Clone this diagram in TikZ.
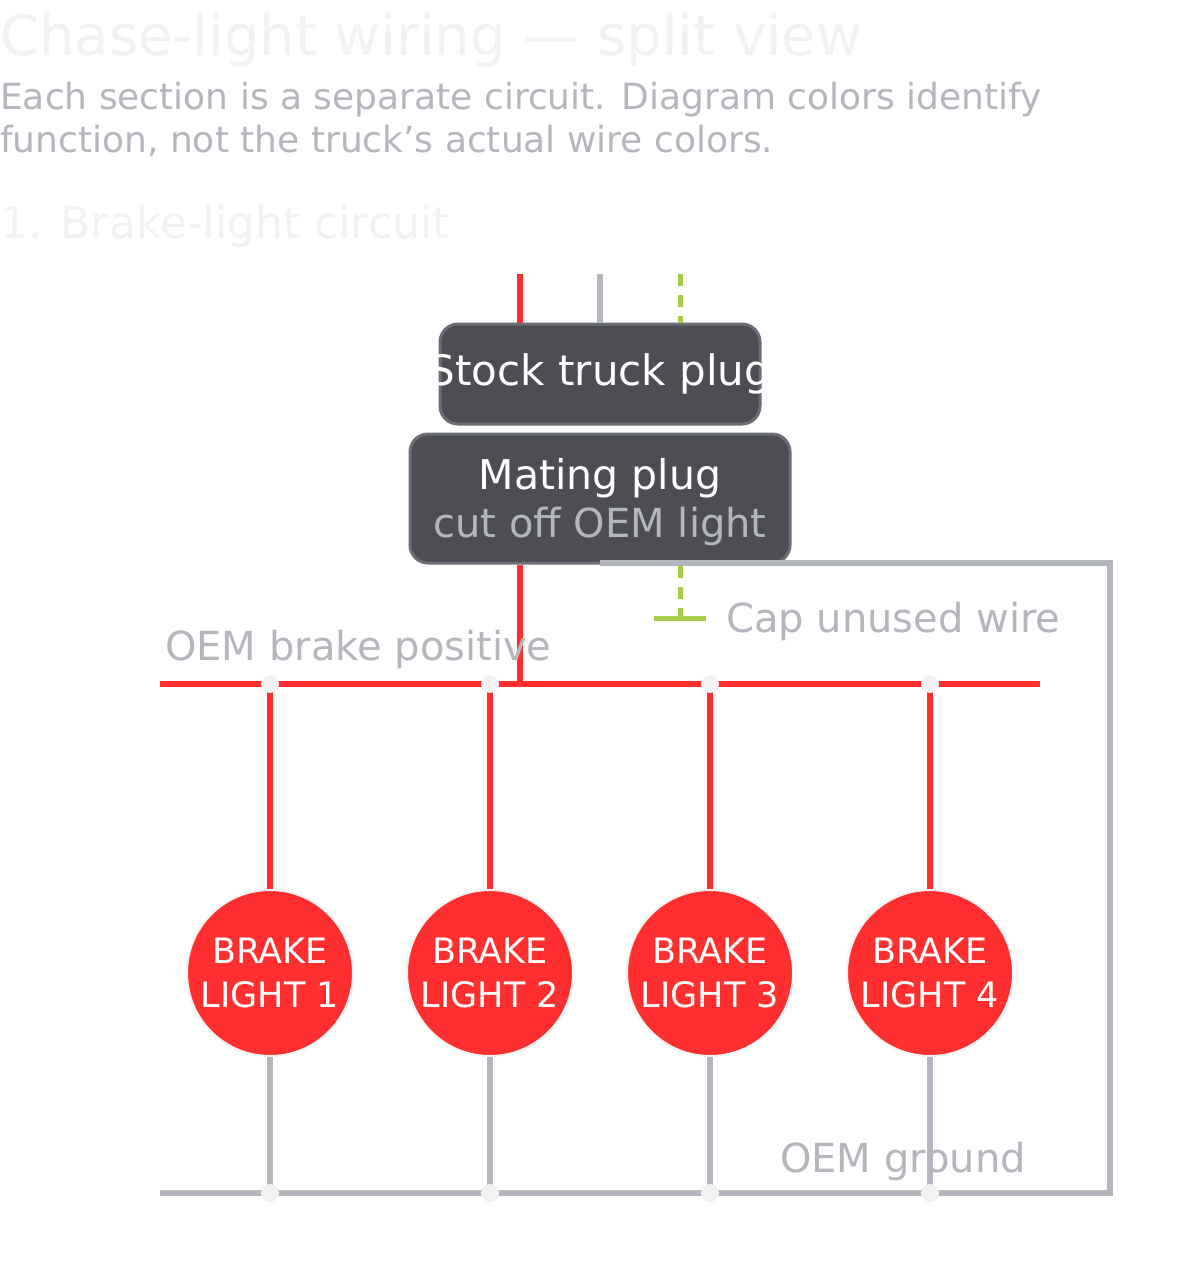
\documentclass[tikz,border=0pt]{standalone}
\usepackage{fontspec}
\setmainfont{DejaVu Sans}
\begin{document}
\begin{tikzpicture}[x=1pt,y=-1pt,
  red/.style={draw=wred,line width=6pt},
  gnd/.style={draw=wgray,line width=6pt},
  grn/.style={draw=wgreen,line width=5pt},
  plug/.style={draw=pstroke,line width=3pt,fill=pfill,rounded corners=18pt},
  lamp/.style={circle,fill=wred,draw=faint,line width=2pt,minimum size=166pt,inner sep=0pt,text=white,font=\fontsize{35}{44}\selectfont,align=center},
  dot/.style={circle,fill=faint,inner sep=0pt,minimum size=18pt},
  lbl/.style={text=wgray,inner sep=0pt,font=\fontsize{40}{40}\selectfont}]
\definecolor{wred}{HTML}{FF2F2F}
\definecolor{wgray}{HTML}{B4B6BD}
\definecolor{wgreen}{HTML}{A8CC48}
\definecolor{faint}{HTML}{F2F2F3}
\definecolor{pfill}{HTML}{4D4E53}
\definecolor{pstroke}{HTML}{6B6D75}
\useasboundingbox[fill=white] (0,0) rectangle (1200,1284);
\node[anchor=base west,inner sep=0pt,text=faint,font=\fontsize{56}{56}\selectfont] (title) at (0,56) {Chase-light wiring — split view};
\node[anchor=base west,inner sep=0pt,text=wgray,font=\fontsize{36}{43}\selectfont,align=left] (sub) at (0,153) {Each section is a separate circuit. Diagram colors identify\\function, not the truck’s actual wire colors.};
\node[anchor=base west,inner sep=0pt,text=faint,font=\fontsize{44}{44}\selectfont] (sec) at (0,238) {1. Brake-light circuit};
% plugs
\draw[plug] (440,324) rectangle (760,424);
\node[text=white,font=\fontsize{42}{42}\selectfont] (stock) at (600,374) {Stock truck plug};
\draw[plug] (410,434) rectangle (790,563);
\node[text=white,font=\fontsize{41}{41}\selectfont,anchor=base] (mate) at (600,489) {Mating plug};
\node[text=wgray,font=\fontsize{40}{40}\selectfont,anchor=base] (cut) at (600,537) {cut off OEM light};
\coordinate (r0) at (520,274); \coordinate (r1) at (520,323);
\coordinate (g0) at (600,274); \coordinate (g1) at (600,323);
\coordinate (n0) at (680,274); \coordinate (n1) at (680,323);
\draw[red] (r0)--(r1);
\draw[gnd] (g0)--(g1);
\draw[grn,dash pattern=on 12pt off 9pt] (n0)--(n1);
% below mating plug
\coordinate (rb) at (520,565); \coordinate (rj) at (520,684);
\draw[red] (rb)--(rj);
\coordinate (nb) at (680,566); \coordinate (nc) at (680,618);
\draw[grn,dash pattern=on 12pt off 9pt] (nb)--(nc);
\coordinate (capl) at (654,618); \coordinate (capr) at (706,618);
\draw[grn] (capl)--(capr);
\node[lbl,anchor=base west] (caplbl) at (726,632) {Cap unused wire};
% ground loop
\coordinate (gs) at (600,563); \coordinate (gl) at (160,1193);
\draw[gnd,line join=miter] (gs)--(1110,563)--(1110,1193)--(gl);
% bus
\coordinate (bl) at (160,684); \coordinate (br) at (1040,684);
\draw[red] (bl)--(br);
\node[lbl,anchor=base west] (bplbl) at (165,660) {OEM brake positive};
\node[lbl,anchor=base west] (gndlbl) at (780,1172) {OEM ground};
\foreach \i/\x in {1/270,2/490,3/710,4/930}{
  \node[lamp] (L\i) at (\x,973) {BRAKE\\LIGHT \i};
  \coordinate (t\i) at (\x,684);
  \coordinate (b\i) at (\x,1193);
  \draw[red] (t\i)--(L\i.north);
  \draw[gnd] (L\i.south)--(b\i);
  \node[dot] (dt\i) at (t\i) {};
  \node[dot] (db\i) at (b\i) {};
}
\end{tikzpicture}
\end{document}
